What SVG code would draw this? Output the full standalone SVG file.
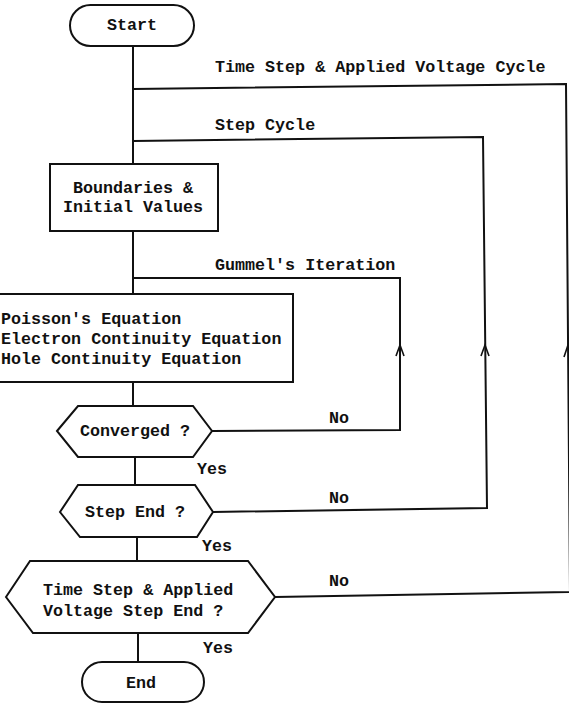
<svg xmlns="http://www.w3.org/2000/svg" width="569" height="703" viewBox="0 0 569 703">
<defs>
<style>
.s{fill:#fff;stroke:#111;stroke-width:2}
.c{fill:none;stroke:#111;stroke-width:2}
.a{fill:none;stroke:#111;stroke-width:1.6}
.t{font-family:"Liberation Mono","Courier New",monospace;font-size:16.7px;fill:#111;font-weight:bold}
.m{text-anchor:middle}
</style>
</defs>
<rect width="569" height="703" fill="#fff"/>
<g id="connectors">
<path class="c" d="M133,46 V164 M133,231 V294 M133,382 V406 M135,457 V485 M137,537 V561 M138,633 V662"/>
<path class="c" d="M275,597 L570,592 L566,84 L133,89"/>
<path class="c" d="M213,512 L487,508 L483,137 L133,141"/>
<path class="c" d="M212,431 L400,430 L400,278 L133,278"/>
<path class="a" d="M564,357 L568,345 L572,357"/>
<path class="a" d="M481,356 L485,345 L489,356"/>
<path class="a" d="M396,356 L400,345 L404,356"/>
<text class="t" x="215" y="72">Time Step &amp; Applied Voltage Cycle</text>
<text class="t" x="215" y="130">Step Cycle</text>
<text class="t" x="215" y="270">Gummel's Iteration</text>
<text class="t" x="329" y="423">No</text>
<text class="t" x="197" y="474">Yes</text>
<text class="t" x="329" y="503">No</text>
<text class="t" x="202" y="551">Yes</text>
<text class="t" x="329" y="586">No</text>
<text class="t" x="203" y="653">Yes</text>
</g>
<g id="start">
<rect class="s" x="70" y="5" width="124" height="41" rx="20.5"/>
<text class="t m" x="132" y="30">Start</text>
</g>
<g id="boundaries">
<rect class="s" x="50" y="164" width="168" height="67"/>
<text class="t m" x="133" y="193">Boundaries &amp;</text>
<text class="t m" x="133" y="212">Initial Values</text>
</g>
<g id="equations">
<rect class="s" x="-20" y="294" width="313" height="88"/>
<text class="t" x="1" y="324">Poisson's Equation</text>
<text class="t" x="1" y="344">Electron Continuity Equation</text>
<text class="t" x="1" y="364">Hole Continuity Equation</text>
</g>
<g id="converged">
<polygon class="s" points="57,431 78,406 193,406 212,431 193,457 78,457"/>
<text class="t m" x="135" y="436">Converged ?</text>
</g>
<g id="stepend">
<polygon class="s" points="60,512 78,485 195,485 213,512 197,537 80,537"/>
<text class="t m" x="135" y="517">Step End ?</text>
</g>
<g id="timestepend">
<polygon class="s" points="6,597 30,561 248,561 275,597 248,633 33,633"/>
<text class="t" x="43" y="595">Time Step &amp; Applied</text>
<text class="t" x="43" y="616">Voltage Step End ?</text>
</g>
<g id="end">
<rect class="s" x="82" y="662" width="122" height="40" rx="20"/>
<text class="t m" x="141" y="688">End</text>
</g>
</svg>
